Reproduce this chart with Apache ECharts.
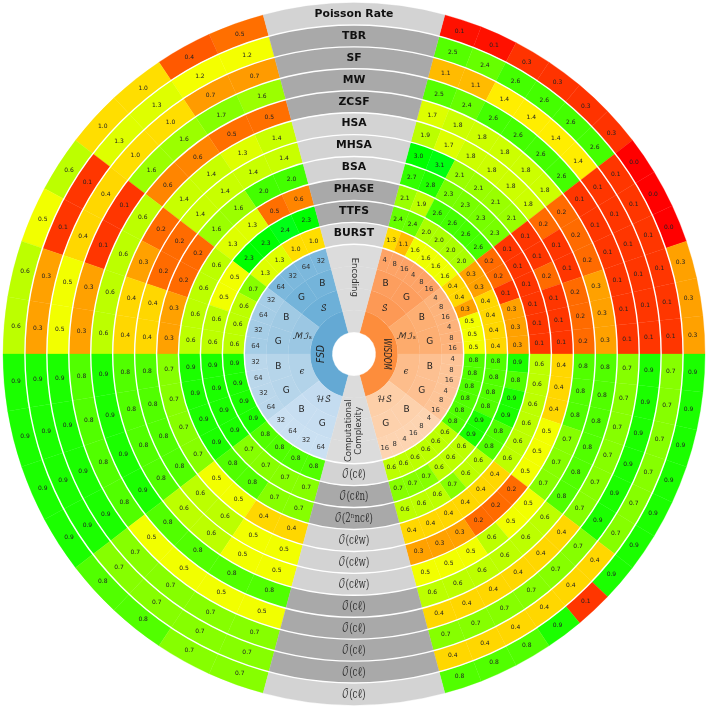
<!DOCTYPE html>
<html>
<head>
<meta charset="utf-8">
<style>
    html, body { margin: 0; padding: 0; background: #fff; }
    #chart { width: 708px; height: 708px; }
</style>
<script src="https://cdn.jsdelivr.net/npm/echarts@6/dist/echarts.min.js"></script>
</head>
<body>
<div id="chart"></div>
<script>
// each row: 24 WISDOM columns (top to bottom), then 16 FSD columns (top to bottom)
const poissonRate = [
    0.1,0.1,0.3,0.3,0.3,0.3, 0.0,0.0,0.0,0.3,0.3,0.3, 0.9,0.9,0.9,0.9,0.9,0.9, 0.9,0.1,0.9,0.8,0.8,0.8,
    0.5,0.4,1.0,1.0, 0.6,0.5,0.6,0.6, 0.9,0.9,0.9,0.9, 0.8,0.8,0.7,0.7];
const tbr = [
    2.5,2.4,2.6,2.6,2.6,2.6, 0.1,0.1,0.1,0.1,0.1,0.1, 0.7,0.7,0.7,0.7,0.7,0.7, 0.4,0.4,0.4,0.4,0.4,0.4,
    1.2,1.2,1.3,1.3, 0.1,0.1,0.3,0.3, 0.9,0.9,0.9,0.9, 0.7,0.7,0.7,0.7];
const sf = [
    1.1,1.1,1.4,1.4,1.4,1.4, 0.1,0.1,0.1,0.1,0.1,0.1, 0.9,0.9,0.9,0.9,0.9,0.9, 0.7,0.7,0.7,0.7,0.7,0.7,
    0.7,0.7,1.0,1.0, 0.4,0.4,0.5,0.5, 0.9,0.9,0.9,0.9, 0.7,0.7,0.7,0.7];
const mw = [
    2.5,2.4,2.6,2.6,2.6,2.6, 0.1,0.1,0.1,0.1,0.1,0.1, 0.7,0.7,0.7,0.7,0.7,0.7, 0.4,0.4,0.4,0.4,0.4,0.4,
    1.6,1.7,1.6,1.6, 0.1,0.1,0.3,0.3, 0.8,0.8,0.8,0.8, 0.5,0.5,0.5,0.5];
const zcsf = [
    1.7,1.8,1.8,1.8,1.8,1.8, 0.2,0.2,0.2,0.3,0.3,0.3, 0.8,0.8,0.8,0.8,0.8,0.8, 0.6,0.6,0.6,0.6,0.6,0.6,
    0.5,0.5,0.6,0.6, 0.6,0.6,0.6,0.6, 0.9,0.9,0.9,0.9, 0.8,0.8,0.8,0.8];
const hsa = [
    1.9,1.7,1.8,1.8,1.8,1.8, 0.2,0.1,0.1,0.2,0.2,0.2, 0.8,0.8,0.8,0.7,0.7,0.7, 0.5,0.5,0.6,0.5,0.5,0.5,
    1.4,1.3,1.4,1.4, 0.2,0.3,0.4,0.4, 0.8,0.8,0.8,0.8, 0.6,0.6,0.5,0.5];
const mhsa = [
    3.0,3.1,2.1,2.1,2.1,2.1, 0.1,0.1,0.2,0.1,0.1,0.1, 0.4,0.4,0.4,0.5,0.5,0.5, 0.2,0.2,0.2,0.3,0.3,0.3,
    1.4,1.4,1.4,1.4, 0.2,0.2,0.4,0.4, 0.8,0.8,0.8,0.8, 0.6,0.6,0.5,0.5];
const bsa = [
    2.7,2.8,2.3,2.3,2.3,2.3, 0.1,0.1,0.1,0.1,0.1,0.1, 0.6,0.6,0.6,0.6,0.6,0.6, 0.4,0.4,0.4,0.4,0.4,0.4,
    2.0,2.0,1.6,1.6, 0.2,0.2,0.3,0.3, 0.7,0.7,0.7,0.7, 0.5,0.5,0.4,0.4];
const phase = [
    2.1,1.9,2.6,2.6,2.6,2.6, 0.2,0.2,0.1,0.3,0.3,0.3, 0.9,0.8,0.9,0.9,0.8,0.8, 0.6,0.6,0.7,0.6,0.6,0.6,
    0.6,0.5,1.3,1.3, 0.6,0.6,0.6,0.6, 0.9,0.9,0.9,0.9, 0.8,0.8,0.7,0.7];
const ttfs = [
    2.4,2.4,2.0,2.0,2.0,2.0, 0.3,0.3,0.4,0.4,0.4,0.4, 0.8,0.8,0.8,0.8,0.9,0.9, 0.6,0.6,0.6,0.7,0.7,0.7,
    2.3,2.4,2.3,2.3, 0.5,0.5,0.6,0.6, 0.9,0.9,0.9,0.9, 0.7,0.7,0.7,0.7];
const burst = [
    1.3,1.1,1.6,1.6,1.6,1.6, 0.4,0.4,0.3,0.5,0.5,0.5, 0.8,0.8,0.8,0.8,0.8,0.8, 0.6,0.6,0.6,0.6,0.6,0.6,
    1.0,1.0,1.3,1.3, 0.7,0.6,0.6,0.6, 0.9,0.9,0.9,0.9, 0.8,0.8,0.8,0.8];

// outer ring first
const rows = [poissonRate, tbr, sf, mw, zcsf, hsa, mhsa, bsa, phase, ttfs, burst];
const rowNames = ['Poisson Rate','TBR','SF','MW','ZCSF','HSA','MHSA','BSA','PHASE','TTFS','BURST'];
const rowComplexity = ['𝒪(cℓ)','𝒪(cℓ)','𝒪(cℓ)','𝒪(cℓ)','𝒪(cℓ)','𝒪(cℓw)','𝒪(cℓw)','𝒪(cℓw)','𝒪(2ⁿncℓ)','𝒪(cℓn)','𝒪(cℓ)'];
const rowShade = ['#d3d3d3','#a9a9a9','#a9a9a9','#a9a9a9','#a9a9a9','#d3d3d3','#d3d3d3','#d3d3d3','#a9a9a9','#a9a9a9','#d3d3d3'];

const metrics = ['𝒮','ℳℐₛ','𝜖','ℋ𝒮'];
const encodings = ['B','G'];
const rightRates = ['4','8','16'];
const leftRates = ['32','64'];

// colour scale top per metric block
const rightBlockMax = [3.0, 0.95, 0.95, 0.95];
const leftBlockMax = [2.3, 0.95, 0.95, 0.95];
const rightShades = ['#fd9955','#fdab6c','#fdbd8b','#fdcfa8'];
const leftShades = ['#6db0d8','#9bc7e3','#b2d3e9','#c4dcf0'];
const FSD_COLOR = '#64a9d4';
const WISDOM_COLOR = '#fd8d3c';
const GAP_COLOR = '#dcdcdc';

const RIGHT_N = 24, LEFT_N = 16;
const RIGHT_STEP = 150 / RIGHT_N, LEFT_STEP = 150 / LEFT_N;
const INNER_RING = 5;    // radius unit where BURST starts
const MATH_FONT = '"DejaVu Math TeX Gyre","DejaVu Serif"';

function rightSpan(i, n) { return [15 + i * RIGHT_STEP, 15 + (i + n) * RIGHT_STEP]; }
function leftSpan(i, n) { return [345 - (i + n) * LEFT_STEP, 345 - i * LEFT_STEP]; }

// wheel rings get a bit paler going outward
function paler(hex, amount) {
    const n = parseInt(hex.slice(1), 16);
    const mix = (c) => Math.round(c + (255 - c) * amount);
    return 'rgb(' + mix(n >> 16) + ',' + mix((n >> 8) & 255) + ',' + mix(n & 255) + ')';
}

// heat cells
const cellData = [];
rows.forEach((row, r) => {
    const ring = INNER_RING + rows.length - 1 - r;
    row.forEach((v, c) => {
        const right = c < RIGHT_N;
        const span = right ? rightSpan(c, 1) : leftSpan(c - RIGHT_N, 1);
        const top = right ? rightBlockMax[Math.floor(c / 6)] : leftBlockMax[Math.floor((c - RIGHT_N) / 4)];
        cellData.push([ring, span[0], span[1], v, top]);
    });
});

// grey row label wedges
const gapData = [];
rows.forEach((row, r) => {
    const ring = INNER_RING + rows.length - 1 - r;
    gapData.push({ value: [ring, 345, 375], fill: rowShade[r], text: rowNames[r], font: 'bold 10.8px "DejaVu Sans"', color: '#111' });
    gapData.push({ value: [ring, 165, 195], fill: rowShade[r], text: rowComplexity[r], font: '12px ' + MATH_FONT, color: '#333', scaleX: 0.72 });
});

// inner wheel: ring 1 method, ring 2 metric, ring 3 encoding, ring 4 rate
const wheelData = [];
function wheelItem(ring, span, fill, text, font, extra) {
    wheelData.push(Object.assign({ value: [ring, span[0], span[1]], fill, text, font, color: '#222' }, extra));
}
wheelItem(1, rightSpan(0, 24), WISDOM_COLOR, 'WISDOM', 'italic 9.6px "DejaVu Sans"', { rotation: -Math.PI / 2, scaleX: 0.76 });
wheelItem(1, leftSpan(0, 16), FSD_COLOR, 'FSD', 'italic 10px "DejaVu Sans"', { rotation: Math.PI / 2, scaleX: 0.9 });
[[rightSpan, rightRates, rightShades], [leftSpan, leftRates, leftShades]].forEach(([spanOf, rates, shades]) => {
    const n = rates.length;
    metrics.forEach((m, mi) => {
        wheelItem(2, spanOf(mi * 2 * n, 2 * n), shades[mi], m, '8.5px ' + MATH_FONT);
        encodings.forEach((e, ei) => {
            const start = mi * 2 * n + ei * n;
            wheelItem(3, spanOf(start, n), paler(shades[mi], 0.05), e, '9px "DejaVu Sans"');
            rates.forEach((rate, ri) => {
                wheelItem(4, spanOf(start + ri, 1), paler(shades[mi], 0.1), rate, '6.8px "DejaVu Sans"', { color: '#333' });
            });
        });
    });
});
wheelItem(1, [345, 375], GAP_COLOR, '', '');
wheelItem(2, [345, 375], GAP_COLOR, '', '');
wheelItem(3, [345, 375], GAP_COLOR, 'Encoding', '8.5px "DejaVu Sans"', { rotation: -Math.PI / 2, color: '#333' });
wheelItem(4, [345, 375], GAP_COLOR, '', '');
wheelItem(1, [165, 195], GAP_COLOR, '', '');
wheelItem(2, [165, 195], GAP_COLOR, '', '');
wheelItem(3, [165, 195], GAP_COLOR, 'Computational\nComplexity', '8.5px "DejaVu Sans"', { rotation: Math.PI / 2, color: '#333' });
wheelItem(4, [165, 195], GAP_COLOR, '', '');

function sectorShape(params, api, ring, a0, a1) {
    const p0 = api.coord([ring, a0]);
    const p1 = api.coord([ring + 1, a1]);
    return {
        cx: params.coordSys.cx, cy: params.coordSys.cy,
        r0: p0[2], r: p1[2],
        startAngle: -p0[3], endAngle: -p1[3], clockwise: true
    };
}

function labelAt(api, ring, a0, a1, offset) {
    const p = api.coord([ring + 0.5 - (offset || 0), (a0 + a1) / 2]);
    return { x: p[0], y: p[1] };
}

const labelled = (list) => (params, api) => {
    const d = list[params.dataIndex];
    const [ring, a0, a1] = d.value;
    const pos = labelAt(api, ring, a0, a1);
    const children = [{
        type: 'sector',
        shape: sectorShape(params, api, ring, a0, a1),
        style: { fill: d.fill, stroke: d.fill, lineWidth: 0.3 }
    }];
    if (d.text) {
        children.push({
            type: 'text', x: pos.x, y: pos.y, rotation: d.rotation || 0, scaleX: d.scaleX || 1, z2: 10,
            style: { text: d.text, font: d.font, fill: d.color, align: 'center', verticalAlign: 'middle', lineHeight: 10 }
        });
    }
    return { type: 'group', children };
};

const chart = echarts.init(document.getElementById('chart'));
chart.setOption({
    animation: false,
    polar: { center: [354, 354], radius: [0, 351] },
    angleAxis: { type: 'value', min: 0, max: 360, startAngle: 90, show: false },
    radiusAxis: { type: 'value', min: 0, max: 16, show: false },
    series: [
        {
            type: 'custom', coordinateSystem: 'polar', silent: true,
            data: cellData,
            encode: { radius: 0, angle: 1 },
            renderItem(params, api) {
                const ring = api.value(0), a0 = api.value(1), a1 = api.value(2), v = api.value(3), top = api.value(4);
                const pos = labelAt(api, ring, a0, a1, 0.04);
                const fill = 'hsl(' + (120 * v / top) + ',100%,50%)';
                return {
                    type: 'group',
                    children: [
                        { type: 'sector', shape: sectorShape(params, api, ring, a0, a1), style: { fill, stroke: fill, lineWidth: 0.3 } },
                        { type: 'text', x: pos.x, y: pos.y, z2: 10, style: { text: v.toFixed(1), font: '6px "DejaVu Sans"', fill: '#222', align: 'center', verticalAlign: 'middle' } }
                    ]
                };
            }
        },
        {
            type: 'custom', coordinateSystem: 'polar', silent: true,
            data: gapData.map(d => d.value),
            encode: { radius: 0, angle: 1 },
            renderItem: labelled(gapData)
        },
        {
            type: 'custom', coordinateSystem: 'polar', silent: true,
            data: wheelData.map(d => d.value),
            encode: { radius: 0, angle: 1 },
            renderItem: labelled(wheelData)
        },
        {
            // white ring separators
            type: 'custom', coordinateSystem: 'polar', silent: true, z: 5,
            data: rows.map((row, r) => [INNER_RING + r, 0]),
            encode: { radius: 0, angle: 1 },
            renderItem(params, api) {
                const p = api.coord([api.value(0), 0]);
                return {
                    type: 'circle',
                    shape: { cx: params.coordSys.cx, cy: params.coordSys.cy, r: p[2] },
                    style: { fill: 'none', stroke: '#fff', lineWidth: 1.4 }
                };
            }
        }
    ]
});
</script>
</body>
</html>
